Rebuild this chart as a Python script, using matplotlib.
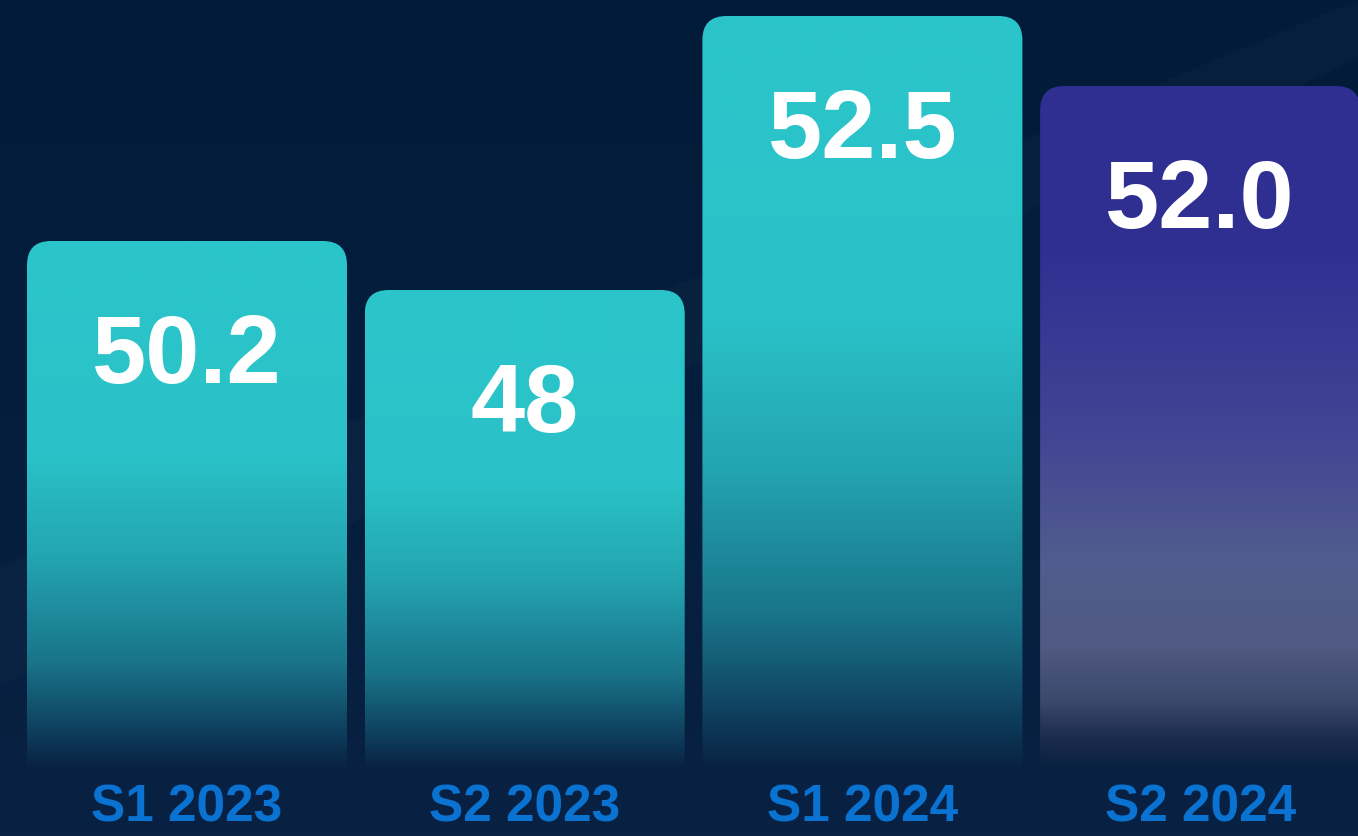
import numpy as np
import matplotlib
matplotlib.use("Agg")
import matplotlib.pyplot as plt
from matplotlib.patches import FancyBboxPatch

# data
periods = ["S1 2023", "S2 2023", "S1 2024", "S2 2024"]
values = [50.2, 48, 52.5, 52.0]
value_text = ["50.2", "48", "52.5", "52.0"]
# the artwork is not drawn to scale: bar heights as drawn (px above the baseline)
drawn_heights = [529, 480, 754, 684]
bar_style = ["teal", "teal", "teal", "indigo"]

BG_TOP = np.array([2, 27, 57]) / 255
BG_BOT = np.array([9, 33, 66]) / 255

# colour stops, t = 0 at the bar top, 1 at the baseline
stops = {
    "teal": [(0.0, (42, 197, 202)), (0.40, (42, 194, 200)), (0.60, (35, 165, 176)),
             (0.80, (25, 115, 137)), (0.92, (15, 66, 96)), (1.0, (9, 33, 66))],
    "indigo": [(0.0, (47, 46, 145)), (0.25, (48, 48, 146)), (0.50, (65, 68, 148)),
               (0.70, (82, 92, 142)), (0.82, (80, 90, 130)), (0.90, (60, 72, 108)),
               (0.96, (25, 42, 75)), (1.0, (9, 33, 66))],
}

def gradient(name, n=300):
    t = np.linspace(0, 1, n)
    st = stops[name]
    pos = [s[0] for s in st]
    cols = np.array([s[1] for s in st]) / 255
    rgb = np.stack([np.interp(t, pos, cols[:, k]) for k in range(3)], axis=1)
    return rgb[:, None, :]

px_per_x = 337.7
fig = plt.figure(figsize=(13.58, 8.36), dpi=100)
ax = fig.add_axes([0, 0, 1, 1])
ax.axis("off")
xlim = (-187 / px_per_x, (1358 - 187) / px_per_x)
ylim = (-66, 770)
ax.set_xlim(xlim)
ax.set_ylim(ylim)

# background
tb = np.linspace(0, 1, 200)[:, None, None]
bg = BG_TOP * (1 - tb) + BG_BOT * tb
ax.imshow(bg, extent=[xlim[0], xlim[1], ylim[0], ylim[1]], aspect="auto", zorder=0)
# faint diagonal sheen
ax.fill([0, 1, 1, 0], [0.18, 0.93, 1.0, 0.32], transform=ax.transAxes,
        color="white", alpha=0.02, lw=0, zorder=1)

font = ["Liberation Sans", "DejaVu Sans"]
width = 320 / px_per_x
radius = 24 / px_per_x
for i, h in enumerate(drawn_heights):
    x0 = i - width / 2
    patch = FancyBboxPatch((x0, -200), width, h + 200,
                           boxstyle=f"round,pad=0,rounding_size={radius}",
                           mutation_aspect=px_per_x, fc="none", ec="none", zorder=2)
    ax.add_patch(patch)
    im = ax.imshow(gradient(bar_style[i]), extent=[x0, x0 + width, 0, h],
                   aspect="auto", zorder=2, interpolation="bilinear")
    im.set_clip_path(patch)
    ax.text(i, h - 142, value_text[i], ha="center", va="baseline", color="white",
            fontsize=70, fontweight="bold", family=font, zorder=3)
    ax.text(i, -51, periods[i], ha="center", va="baseline", color="#0a72d0",
            fontsize=37, fontweight="bold", family=font, zorder=3)

fig.savefig("out.png", dpi=100, facecolor=BG_TOP)
